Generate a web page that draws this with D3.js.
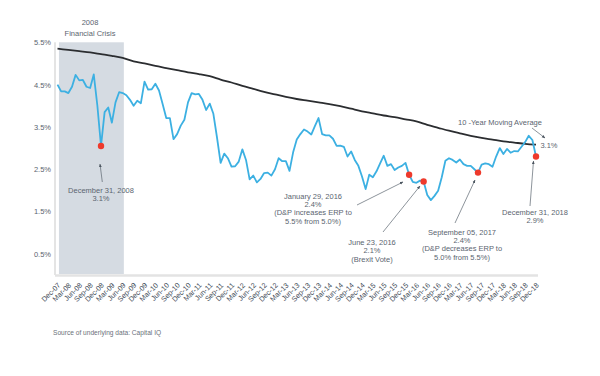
<!DOCTYPE html>
<html>
<head>
<meta charset="utf-8">
<title>Equity Risk Premium</title>
<script src="https://d3js.org/d3.v7.min.js"></script>
<style>
body { margin: 0; background: #fff; font-family: "Liberation Sans", Arial, sans-serif; }
.note text { font-size: 7.5px; fill: #5b6570; }
.note line { stroke: #5b6570; stroke-width: 0.7; }
</style>
</head>
<body>
<svg id="chart" width="600" height="376"></svg>
<script>
// monthly ERP, index 0 = Dec-07 ... 132 = Dec-18
const erp = [
  4.50, 4.34, 4.34, 4.30, 4.45, 4.73, 4.60, 4.61, 4.45, 4.42, 4.74, 4.00,
  3.05, 3.85, 3.96, 3.60, 4.08, 4.32, 4.30, 4.25, 4.14, 4.00, 4.12, 4.06,
  4.57, 4.38, 4.39, 4.52, 4.36, 4.04, 3.71, 3.71, 3.21, 3.33, 3.53, 3.67,
  4.08, 4.30, 4.27, 4.28, 4.14, 3.90, 4.05, 3.81, 3.25, 2.65, 2.87, 2.76,
  2.56, 2.57, 2.68, 2.97, 2.72, 2.26, 2.35, 2.19, 2.27, 2.41, 2.42, 2.35,
  2.50, 2.76, 2.69, 2.69, 2.46, 2.90, 3.20, 3.33, 3.44, 3.39, 3.32, 3.52,
  3.71, 3.33, 3.30, 3.30, 3.22, 3.05, 3.06, 3.03, 2.80, 2.92, 2.72, 2.58,
  2.33, 2.03, 2.37, 2.31, 2.45, 2.64, 2.82, 2.58, 2.62, 2.48, 2.54, 2.58,
  2.65, 2.37, 2.20, 2.18, 2.23, 2.21, 1.89, 1.77, 1.87, 1.99, 2.31, 2.70,
  2.76, 2.72, 2.66, 2.73, 2.62, 2.58, 2.58, 2.50, 2.42, 2.61, 2.64, 2.62,
  2.56, 2.80, 3.00, 2.86, 2.98, 2.89, 2.93, 2.92, 3.03, 3.14, 3.29, 3.19,
  2.80
];

// 10-year moving average, quarterly
const movingAvg = [
  5.35, 5.32, 5.29, 5.26, 5.22, 5.18, 5.13, 5.05, 5.00, 4.94, 4.89, 4.84,
  4.79, 4.75, 4.70, 4.62, 4.55, 4.47, 4.40, 4.33, 4.27, 4.21, 4.16, 4.12,
  4.08, 4.04, 3.99, 3.93, 3.87, 3.82, 3.77, 3.73, 3.68, 3.63, 3.55, 3.48,
  3.41, 3.35, 3.29, 3.24, 3.20, 3.16, 3.13, 3.10, 3.08
];

const tickLabels = [
  "Dec-07", "Mar-08", "Jun-08", "Sep-08", "Dec-08", "Mar-09", "Jun-09", "Sep-09", "Dec-09",
  "Mar-10", "Jun-10", "Sep-10", "Dec-10", "Mar-11", "Jun-11", "Sep-11", "Dec-11",
  "Mar-12", "Jun-12", "Sep-12", "Dec-12", "Mar-13", "Jun-13", "Sep-13", "Dec-13",
  "Mar-14", "Jun-14", "Sep-14", "Dec-14", "Mar-15", "Jun-15", "Sep-15", "Dec-15",
  "Mar-16", "Jun-16", "Sep-16", "Dec-16", "Mar-17", "Jun-17", "Sep-17", "Dec-17",
  "Mar-18", "Jun-18", "Sep-18", "Dec-18"
];

const yTicks = [0.5, 1.5, 2.5, 3.5, 4.5, 5.5];
const crisisSpan = [0.4, 18.3];
const eventIdx = [12, 97, 101, 116, 132];

const svg = d3.select("#chart");

const x = d3.scaleLinear().domain([0, 132]).range([57.5, 536]);
const y = d3.scaleLinear().domain([0, 5.5]).range([275, 42.3]);

// shaded crisis period
svg.append("rect")
  .attr("x", x(crisisSpan[0]))
  .attr("y", y(5.5))
  .attr("width", x(crisisSpan[1]) - x(crisisSpan[0]))
  .attr("height", y(0) - y(5.5) - 1)
  .attr("fill", "#d5dbe2");

svg.append("text")
  .attr("x", 90).attr("y", 25)
  .attr("text-anchor", "middle")
  .style("font-size", "7.5px").style("fill", "#5b6570")
  .text("2008");
svg.append("text")
  .attr("x", 90).attr("y", 36)
  .attr("text-anchor", "middle")
  .style("font-size", "7.5px").style("fill", "#5b6570")
  .text("Financial Crisis");

// y axis
const yAxis = svg.append("g")
  .attr("transform", "translate(55,0)")
  .call(d3.axisLeft(y).tickValues(yTicks).tickSize(0).tickPadding(4)
    .tickFormat(d => d.toFixed(1) + "%"));
yAxis.select(".domain").remove();
yAxis.selectAll("text")
  .style("font-family", "Liberation Sans, Arial, sans-serif")
  .style("font-size", "7.5px")
  .style("fill", "#5b6570");
svg.append("line")
  .attr("x1", 55).attr("x2", 55)
  .attr("y1", y(5.5)).attr("y2", y(0))
  .attr("stroke", "#c9c9c9").attr("stroke-width", 1);

// x axis
const xAxis = svg.append("g")
  .attr("transform", "translate(0,276)")
  .call(d3.axisBottom(x).tickValues(d3.range(0, 133, 3)).tickSize(0)
    .tickFormat((d, i) => tickLabels[i]));
xAxis.select(".domain").remove();
xAxis.selectAll("text")
  .attr("x", 0).attr("y", 0).attr("dy", "0.35em")
  .attr("text-anchor", "end")
  .attr("transform", "translate(1,8) rotate(-45)")
  .style("font-family", "Liberation Sans, Arial, sans-serif")
  .style("font-size", "7.2px")
  .style("fill", "#3e4a56");
svg.append("line")
  .attr("x1", 55).attr("x2", 538)
  .attr("y1", 275.5).attr("y2", 275.5)
  .attr("stroke", "#e3e3e3").attr("stroke-width", 2.5);

// moving average
svg.append("path")
  .datum(movingAvg)
  .attr("fill", "none")
  .attr("stroke", "#2b2d30")
  .attr("stroke-width", 1.8)
  .attr("d", d3.line().x((d, i) => x(i * 3)).y(d => y(d)).curve(d3.curveMonotoneX));

// ERP line
svg.append("path")
  .datum(erp)
  .attr("fill", "none")
  .attr("stroke", "#3cb0e2")
  .attr("stroke-width", 1.8)
  .attr("stroke-linejoin", "round")
  .attr("d", d3.line().x((d, i) => x(i)).y(d => y(d)));

// event dots
svg.selectAll(".dot")
  .data(eventIdx)
  .join("circle")
  .attr("class", "dot")
  .attr("cx", d => x(d))
  .attr("cy", d => y(erp[d]))
  .attr("r", 3.2)
  .attr("fill", "#ee3a2c");

// annotations
const defs = svg.append("defs");
defs.append("marker")
  .attr("id", "arrow")
  .attr("viewBox", "0 0 10 10")
  .attr("refX", 9).attr("refY", 5)
  .attr("markerWidth", 5).attr("markerHeight", 5)
  .attr("orient", "auto")
  .append("path")
  .attr("d", "M0,1 L10,5 L0,9 Z")
  .attr("fill", "#4a545e");

const notes = [
  { lines: ["December 31, 2008", "3.1%"], tx: 101, ty: 193, from: [102.3, 182], to: [100, 164] },
  { lines: ["January 29, 2016", "2.4%", "(D&P increases ERP to", "5.5% from 5.0%)"],
    tx: 313, ty: 198.5, from: [357, 205], to: [403, 182] },
  { lines: ["June 23, 2016", "2.1%", "(Brexit Vote)"], tx: 372, ty: 245, from: [383, 232], to: [420, 186] },
  { lines: ["September 05, 2017", "2.4%", "(D&P decreases ERP to", "5.0% from 5.5%)"],
    tx: 462, ty: 234.5, from: [455, 223], to: [475, 180] },
  { lines: ["December 31, 2018", "2.9%"], tx: 535, ty: 214.5, from: [530, 206], to: [533.5, 161] },
  { lines: ["10 -Year Moving Average"], tx: 500, ty: 124.5, from: [532, 128], to: [545, 138] }
];

const note = svg.selectAll(".note")
  .data(notes)
  .join("g")
  .attr("class", "note");
note.append("line")
  .attr("x1", d => d.from[0]).attr("y1", d => d.from[1])
  .attr("x2", d => d.to[0]).attr("y2", d => d.to[1])
  .attr("marker-end", "url(#arrow)");
note.each(function(d) {
  const t = d3.select(this).append("text")
    .attr("text-anchor", "middle");
  d.lines.forEach((s, i) => {
    t.append("tspan").attr("x", d.tx).attr("y", d.ty + i * 8.4).text(s);
  });
});

svg.append("text")
  .attr("x", 549).attr("y", 147.5)
  .attr("text-anchor", "middle")
  .style("font-size", "7.5px").style("fill", "#5b6570")
  .text("3.1%");

svg.append("text")
  .attr("x", 53).attr("y", 335)
  .style("font-size", "6.6px").style("fill", "#6a717a")
  .text("Source of underlying data: Capital IQ");
</script>
</body>
</html>
